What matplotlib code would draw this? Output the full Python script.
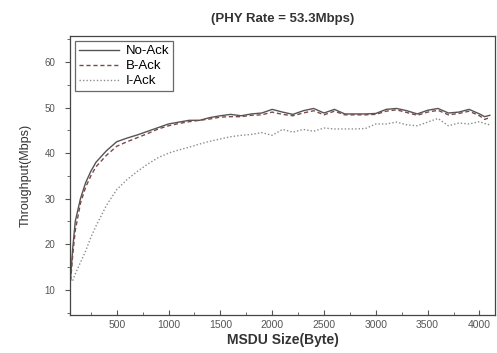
import matplotlib
matplotlib.use('Agg')
import matplotlib.pyplot as plt
from matplotlib.ticker import MultipleLocator

plt.rcParams['font.family'] = ['Liberation Sans', 'DejaVu Sans']

# MSDU size (bytes)
msdu = [50, 75, 100, 150, 200, 250, 300, 400, 500, 600, 700, 800, 900,
        1000, 1100, 1200, 1300, 1400, 1500, 1600, 1700, 1800, 1900,
        2000, 2100, 2200, 2300, 2400, 2500, 2600, 2700, 2800, 2900,
        3000, 3100, 3200, 3300, 3400, 3500, 3600, 3700, 3800, 3900,
        4000, 4050, 4100]

no_ack = [11, 19, 25, 30, 33.5, 36, 38, 40.5, 42.5, 43.3, 44, 44.8, 45.6,
          46.4, 46.8, 47.2, 47.2, 47.8, 48.2, 48.5, 48.2, 48.6, 48.8,
          49.6, 49.0, 48.5, 49.3, 49.8, 48.8, 49.6, 48.6, 48.6, 48.6,
          48.7, 49.6, 49.8, 49.3, 48.6, 49.4, 49.8, 48.8, 49.0, 49.6,
          48.6, 48.0, 48.3]

b_ack = [10.5, 17.5, 23, 29, 32.5, 35, 37, 39.5, 41.5, 42.5, 43.4, 44.3, 45.3,
         46.0, 46.5, 46.9, 47.2, 47.5, 47.9, 48.0, 48.0, 48.3, 48.4,
         49.0, 48.5, 48.2, 48.8, 49.3, 48.4, 49.2, 48.4, 48.4, 48.4,
         48.5, 49.2, 49.5, 48.9, 48.3, 49.0, 49.4, 48.4, 48.7, 49.2,
         48.2, 47.4, 47.8]

i_ack = [None, 12, 13.5, 16, 18.5, 21.5, 24, 28.5, 32, 34.2, 36, 37.6, 39,
         40, 40.7, 41.3, 42, 42.6, 43.1, 43.6, 43.9, 44.1, 44.5,
         43.9, 45.2, 44.6, 45.2, 44.8, 45.5, 45.3, 45.3, 45.3, 45.4,
         46.4, 46.4, 46.8, 46.2, 46.0, 46.8, 47.6, 46.0, 46.6, 46.4,
         46.9, 46.5, 46.2]

fig = plt.figure(figsize=(4.97, 3.53), dpi=100)
ax = fig.add_axes([0.141, 0.108, 0.855, 0.790])

ax.plot(msdu, no_ack, color='#555555', lw=1.0, label='No-Ack')
ax.plot(msdu, b_ack, color='#7a4a4a', lw=1.0, ls=(0, (3, 2)), label='B-Ack')
ax.plot(msdu[1:], i_ack[1:], color='#8c8c8c', lw=1.0, ls=(0, (1, 1.5)), label='I-Ack')

ax.set_xlim(50, 4150)
ax.set_ylim(4.5, 65.7)
ax.set_xticks([500, 1000, 1500, 2000, 2500, 3000, 3500, 4000])
ax.set_yticks([10, 20, 30, 40, 50, 60])
ax.xaxis.set_minor_locator(MultipleLocator(250))
ax.yaxis.set_minor_locator(MultipleLocator(5))
ax.tick_params(axis='x', which='both', direction='in', labelsize=7.5, colors='#555555', pad=4)
ax.tick_params(axis='y', which='both', direction='out', labelsize=7, colors='#555555', pad=7)
ax.tick_params(which='minor', length=2)
ax.tick_params(which='major', length=3.5)
for s in ax.spines.values():
    s.set_color('#444444')
    s.set_linewidth(0.9)

ax.set_title('(PHY Rate = 53.3Mbps)', fontsize=9.5, fontweight='bold', color='#333333', pad=10)
ax.set_xlabel('MSDU Size(Byte)', fontsize=10, fontweight='bold', color='#333333', labelpad=2)
ax.set_ylabel('Throughput(Mbps)', fontsize=9, color='#333333', labelpad=9)

leg = ax.legend(loc='upper left', fontsize=9.5, frameon=True, fancybox=False,
                handlelength=3.0, handletextpad=0.5, borderpad=0.3,
                labelspacing=0.2, borderaxespad=0.4)
leg.get_frame().set_edgecolor('#444444')
leg.get_frame().set_linewidth(0.9)

fig.savefig('out.png', dpi=100)
